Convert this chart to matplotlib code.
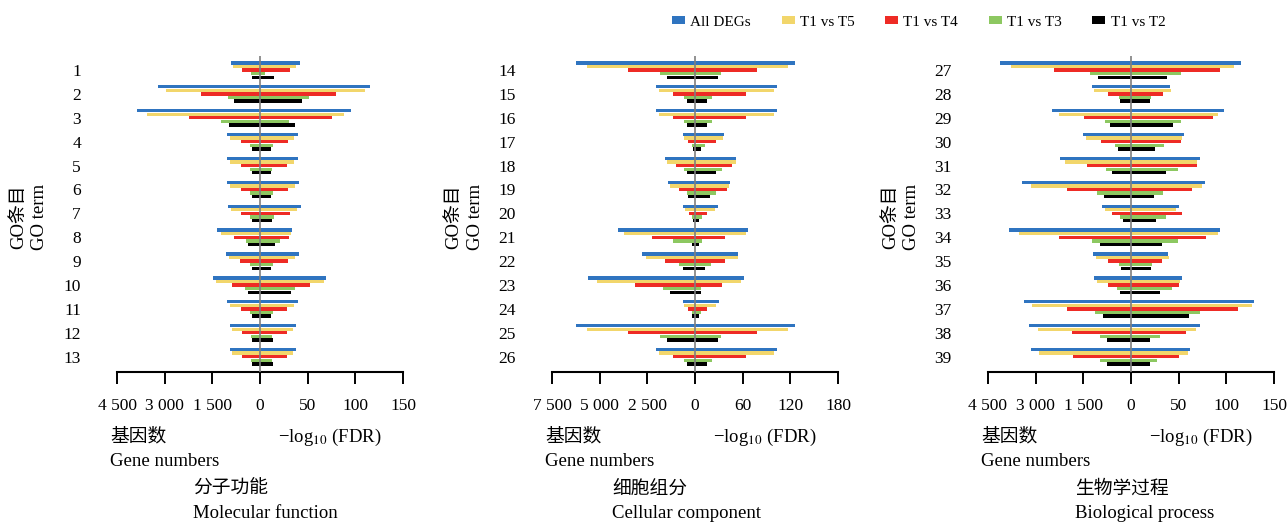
import matplotlib
matplotlib.use('Agg')
import matplotlib.pyplot as plt
from matplotlib.patches import Patch

plt.rcParams['font.family'] = ['Liberation Serif', 'Noto Sans CJK SC']
plt.rcParams['mathtext.fontset'] = 'stix'

series = ['All DEGs', 'T1 vs T5', 'T1 vs T4', 'T1 vs T3', 'T1 vs T2']
colors = ['#2F74C0', '#F2D66B', '#EE2B25', '#8DC861', '#000000']

# 分子功能 / Molecular function, GO 1-13
mf_terms = [str(i) for i in range(1, 14)]
mf_genes = [
    [913, 3210, 3860, 1040, 1040, 1025, 1005, 1340, 1060, 1480, 1040, 955, 955],
    [840, 2970, 3550, 930, 930, 930, 900, 1240, 965, 1385, 940, 870, 870],
    [554, 1845, 2245, 600, 600, 600, 600, 806, 620, 880, 600, 555, 555],
    [271, 1008, 1215, 300, 325, 315, 300, 450, 325, 480, 300, 270, 270],
    [240, 820, 975, 260, 260, 260, 240, 365, 260, 390, 260, 240, 240],
]
mf_fdr = [
    [42, 115, 95, 40, 40, 41, 43, 34, 41, 69, 40, 37.5, 37.5],
    [38, 110, 88, 36, 36, 37, 39, 33, 37, 67, 36, 35, 35],
    [31, 80, 76, 29, 28, 29, 31.5, 30.5, 29, 52, 28, 28, 28],
    [5.7, 51, 30, 14, 13, 14, 15, 21, 14, 36.5, 14, 12.5, 12.5],
    [14.4, 44, 37, 12, 12, 12, 13, 15.5, 11.6, 32, 12, 13.5, 13.5],
]

# 细胞组分 / Cellular component, GO 14-26
cc_terms = [str(i) for i in range(14, 27)]
cc_genes = [
    [6250, 2045, 2045, 610, 1590, 1400, 610, 4050, 2780, 5620, 610, 6250, 2045],
    [5680, 1890, 1890, 560, 1465, 1290, 540, 3735, 2570, 5150, 560, 5680, 1890],
    [3510, 1135, 1135, 365, 980, 855, 315, 2270, 1590, 3160, 350, 3510, 1135],
    [1835, 560, 560, 175, 560, 435, 175, 1135, 855, 1660, 175, 1835, 560],
    [1485, 435, 435, 120, 435, 365, 120, 140, 645, 1310, 140, 1485, 435],
]
cc_fdr = [
    [126, 103, 103, 36, 52, 44, 28.5, 67, 54, 62, 30, 126, 103],
    [117, 100, 100, 35, 51, 43, 25, 64, 54.5, 58, 26, 117, 100],
    [78, 64, 64, 27, 47, 40.5, 14.5, 38, 38, 34, 15.5, 78, 64],
    [33, 21, 21, 12, 34, 27, 8.5, 9, 20, 7.5, 7.5, 33, 21],
    [28.5, 15.5, 15.5, 7.5, 26, 19, 5, 5.5, 12.5, 7.5, 5, 28.5, 15.5],
]

# 生物学过程 / Biological process, GO 27-39
bp_terms = [str(i) for i in range(27, 40)]
bp_genes = [
    [4120, 1225, 2475, 1520, 2245, 3430, 915, 3850, 1185, 1180, 3375, 3200, 3145],
    [3775, 1155, 2255, 1415, 2065, 3145, 830, 3530, 1100, 1080, 3115, 2935, 2885],
    [2410, 735, 1490, 935, 1385, 2025, 600, 2275, 715, 735, 2015, 1855, 1835],
    [1290, 390, 820, 505, 790, 1080, 345, 1225, 390, 430, 1120, 975, 975],
    [1030, 335, 650, 400, 610, 850, 260, 965, 325, 345, 890, 765, 765],
]
bp_fdr = [
    [115, 41, 98, 56, 72, 78, 50.5, 93, 39, 54, 129, 72, 62],
    [108, 42, 91, 53, 69, 74, 47, 91, 39.5, 51.5, 126.5, 68, 60],
    [93, 33.5, 86, 52, 69.5, 64, 53, 78.5, 33, 50.5, 112.5, 57.5, 50.5],
    [52, 21, 52, 35, 49.5, 34, 36.5, 49, 22, 42.5, 72.5, 30.5, 27],
    [38, 20, 44, 25.5, 36.5, 24, 26, 33, 21, 30.7, 61, 20, 20],
]

W, H = 1288, 523
fig = plt.figure(figsize=(W / 100, H / 100), dpi=100)
fig.patch.set_facecolor('white')

def fx(x):
    return x / W

def fy(y):
    return 1 - y / H

panels = [
    (mf_terms, mf_genes, mf_fdr, 117, 150, 30.0,
     ['4 500', '3 000', '1 500', '0', '50', '100', '150'],
     '分子功能', 'Molecular function', 193, 19),
    (cc_terms, cc_genes, cc_fdr, 552, 180, 2500 / 60,
     ['7 500', '5 000', '2 500', '0', '60', '120', '180'],
     '细胞组分', 'Cellular component', 612, 454),
    (bp_terms, bp_genes, bp_fdr, 988, 150, 30.0,
     ['4 500', '3 000', '1 500', '0', '50', '100', '150'],
     '生物学过程', 'Biological process', 1075, 891),
]

offsets = [-0.3, -0.15, 0, 0.15, 0.3]
top, bottom = 55.7, 372

for terms, genes, fdr, left, lim, scale, xlabels, cn, en, tx, ylx in panels:
    ax = fig.add_axes([fx(left), fy(bottom), fx(286), (bottom - top) / H])
    n = len(terms)
    for j in range(5):
        ys = [k + offsets[j] for k in range(n)]
        lefts = [-g / scale for g in genes[j]]
        widths = [g / scale + f for g, f in zip(genes[j], fdr[j])]
        ax.barh(ys, widths, left=lefts, height=0.14, color=colors[j], zorder=2)
    ax.axvline(0, color='#7f7f7f', lw=1.2, zorder=3)
    ax.set_xlim(-lim, lim)
    ax.set_ylim(12.64, -0.6)
    for s in ['top', 'left', 'right']:
        ax.spines[s].set_visible(False)
    ax.spines['bottom'].set_linewidth(1.5)
    ax.set_xticks([-lim, -2 * lim / 3, -lim / 3, 0, lim / 3, 2 * lim / 3, lim])
    ax.set_xticklabels(xlabels, fontsize=12.5)
    ax.tick_params(axis='x', direction='out', length=8.6, width=1.4, pad=10)
    ax.set_yticks(range(n))
    ax.set_yticklabels(terms, fontsize=12.5)
    ax.tick_params(axis='y', length=0, pad=26)
    ax.set_facecolor('none')

    fig.text(fx(ylx), fy(217), 'GO条目', rotation=90, ha='center', va='center', fontsize=13.5)
    fig.text(fx(ylx + 21), fy(217), 'GO term', rotation=90, ha='center', va='center', fontsize=13.5)
    fig.text(fx(left - 7), fy(437), '基因数', ha='left', va='center', fontsize=13.5)
    fig.text(fx(left - 7), fy(461), 'Gene numbers', ha='left', va='center', fontsize=13.5)
    fig.text(fx(left + 143 + 18), fy(437), '−log$_{10}$ (FDR)', ha='left', va='center', fontsize=13.5)
    fig.text(fx(tx), fy(489), cn, ha='left', va='center', fontsize=13.5)
    fig.text(fx(tx), fy(513), en, ha='left', va='center', fontsize=13.5)

handles = [Patch(facecolor=c, edgecolor='none') for c in colors]
fig.legend(handles, series, loc='center left', bbox_to_anchor=(fx(672), fy(22)),
           ncol=5, frameon=False, fontsize=11, handlelength=0.85, handleheight=0.46,
           handletextpad=0.35, columnspacing=2.0, borderpad=0, borderaxespad=0)

fig.savefig('out.png', dpi=100)
